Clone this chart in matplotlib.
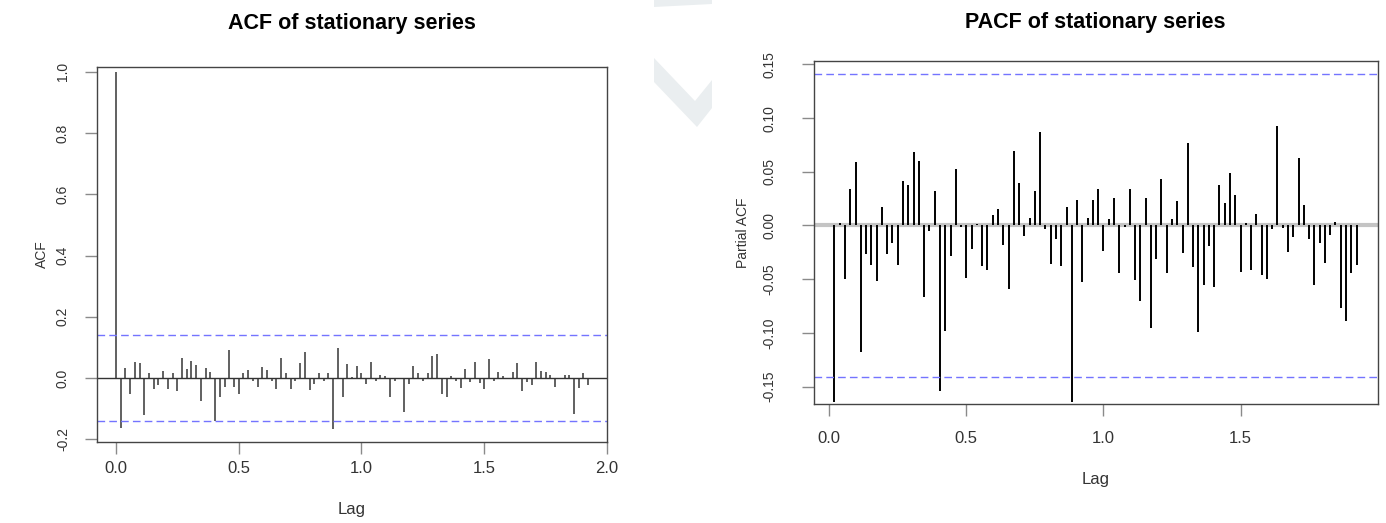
import numpy as np
import matplotlib.pyplot as plt
from matplotlib.patches import Polygon

plt.rcParams['font.family'] = ['Liberation Sans', 'DejaVu Sans']

# series frequency and sample size (for the 95% bounds)
freq = 52
n_obs = 193

# ACF, lags 0..100
acf_vals = [1.0, -0.164, 0.032, -0.053, 0.052, 0.048, -0.121, 0.015, -0.036, -0.023,
            0.022, -0.036, 0.015, -0.041, 0.066, 0.029, 0.056, 0.042, -0.075, 0.032,
            0.021, -0.141, -0.061, -0.028, 0.092, -0.028, -0.052, 0.015, 0.026, -0.009,
            -0.028, 0.035, 0.026, -0.009, -0.036, 0.066, 0.015, -0.036, -0.009, 0.048,
            0.086, -0.039, -0.021, 0.015, -0.009, 0.015, -0.168, 0.097, -0.061, 0.045,
            0.002, 0.039, 0.015, -0.021, 0.053, -0.009, 0.010, 0.007, -0.061, -0.009,
            -0.004, -0.110, -0.021, 0.039, 0.015, -0.009, 0.015, 0.072, 0.078, -0.052,
            -0.061, 0.007, -0.009, -0.034, 0.028, -0.012, 0.053, -0.017, -0.037, 0.061,
            -0.009, 0.020, 0.007, -0.002, 0.020, 0.048, -0.041, -0.012, -0.023, 0.053,
            0.023, 0.021, 0.009, -0.028, 0.001, 0.009, 0.009, -0.118, -0.034, 0.015,
            -0.023]

# PACF, lags 1..100
pacf_vals = [-0.164, 0.002, -0.050, 0.034, 0.059, -0.118, -0.027, -0.037, -0.052, 0.017,
             -0.027, -0.016, -0.037, 0.041, 0.038, 0.068, 0.060, -0.067, -0.005, 0.032,
             -0.154, -0.098, -0.028, 0.053, -0.001, -0.049, -0.022, 0.001, -0.038, -0.041,
             0.010, 0.015, -0.018, -0.059, 0.069, 0.040, -0.010, 0.007, 0.032, 0.087,
             -0.003, -0.036, -0.013, -0.038, 0.017, -0.164, 0.024, -0.053, 0.007, 0.024,
             0.034, -0.024, 0.006, 0.026, -0.044, -0.001, 0.034, -0.051, -0.070, 0.026,
             -0.095, -0.031, 0.043, -0.044, 0.006, 0.023, -0.026, 0.077, -0.039, -0.099,
             -0.055, -0.019, -0.057, 0.038, 0.021, 0.049, 0.028, -0.043, 0.002, -0.041,
             0.011, -0.046, -0.050, -0.003, 0.093, -0.002, -0.025, -0.011, 0.063, 0.019,
             -0.013, -0.055, -0.016, -0.035, -0.009, 0.003, -0.077, -0.089, -0.044, -0.037]

acf_lags = np.arange(len(acf_vals)) / freq
pacf_lags = np.arange(1, len(pacf_vals) + 1) / freq
conf = 1.96 / np.sqrt(n_obs)

acf_yticks = [-0.2, 0.0, 0.2, 0.4, 0.6, 0.8, 1.0]
pacf_yticks = [-0.15, -0.10, -0.05, 0.00, 0.05, 0.10, 0.15]

fig = plt.figure(figsize=(13.86, 5.23), dpi=100)

# faint watermark chevron in the background (pixel coords of the picture)
W, H = 1386, 523
wm = [(654, 58), (695, 101), (712, 80), (712, 108), (697, 127), (654, 82)]
fig.patches.append(Polygon([(x / W, 1 - y / H) for x, y in wm], closed=True,
                           transform=fig.transFigure, facecolor='#eaeef0',
                           edgecolor='none', zorder=0))
wm_top = [(654, 0), (712, 0), (712, 4), (654, 7)]
fig.patches.append(Polygon([(x / W, 1 - y / H) for x, y in wm_top], closed=True,
                           transform=fig.transFigure, facecolor='#eaeef0',
                           edgecolor='none', zorder=0))


def style_axes(ax, ypad, xpad):
    for s in ax.spines.values():
        s.set_color('#444444')
        s.set_linewidth(1.0)
    ax.patch.set_alpha(0)
    ax.tick_params(direction='out', length=8.5, width=1, color='#8a8a8a',
                   labelcolor='#333333')
    ax.tick_params(axis='x', labelsize=12, pad=xpad)
    ax.tick_params(axis='y', labelsize=10, pad=ypad)


# ---- ACF ----
ax1 = fig.add_axes([0.070, 0.155, 0.368, 0.717])
ax1.vlines(acf_lags, 0, acf_vals, color='#606060', lw=1.4)
ax1.axhline(0, color='#333333', lw=1.0)
for c in (conf, -conf):
    ax1.axhline(c, color='#7474ff', lw=1.0, ls=(0, (5.5, 3)))
ax1.set_xlim(-0.077, 2.0)
ax1.set_ylim(-0.209, 1.016)
ax1.set_xticks([0.0, 0.5, 1.0, 1.5, 2.0])
ax1.set_xticklabels(['0.0', '0.5', '1.0', '1.5', '2.0'])
ax1.set_yticks(acf_yticks)
ax1.set_yticklabels(['%.1f' % v for v in acf_yticks], rotation=90, va='center')
style_axes(ax1, ypad=11, xpad=5)
ax1.set_title('ACF of stationary series', fontsize=15.5, fontweight='bold', pad=27)
ax1.set_xlabel('Lag', fontsize=12, color='#333333', labelpad=19)
ax1.set_ylabel('ACF', fontsize=10, color='#333333', labelpad=5)

# ---- PACF ----
ax2 = fig.add_axes([0.587, 0.228, 0.407, 0.655])
ax2.axhline(0, color='#c4c4c4', lw=3.0)
ax2.vlines(pacf_lags, 0, pacf_vals, color='black', lw=1.4)
for c in (conf, -conf):
    ax2.axhline(c, color='#7474ff', lw=1.0, ls=(0, (5.5, 3)))
ax2.set_xlim(-0.057, 2.0)
ax2.set_ylim(-0.166, 0.153)
ax2.set_xticks([0.0, 0.5, 1.0, 1.5])
ax2.set_xticklabels(['0.0', '0.5', '1.0', '1.5'])
ax2.set_yticks(pacf_yticks)
ax2.set_yticklabels(['%.2f' % v for v in pacf_yticks], rotation=90, va='center')
style_axes(ax2, ypad=18, xpad=11)
ax2.set_title('PACF of stationary series', fontsize=15.5, fontweight='bold', pad=24)
ax2.set_xlabel('Lag', fontsize=12, color='#333333', labelpad=19)
ax2.set_ylabel('Partial ACF', fontsize=10, color='#333333', labelpad=9)

fig.savefig('out.png', dpi=100)
